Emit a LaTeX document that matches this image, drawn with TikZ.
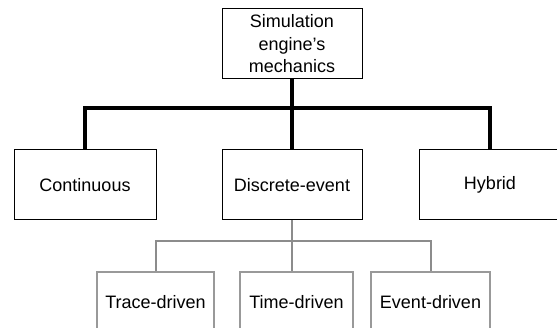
\documentclass[tikz,border=0pt]{standalone}
\usepackage{fontspec}
\setmainfont{Liberation Sans}
\begin{document}
\begin{tikzpicture}[x=1pt,y=-1pt,
  every node/.style={font=\fontsize{18}{22.5}\selectfont, inner sep=0pt},
  mainbox/.style={draw=black, line width=1pt, fill=white, minimum height=70pt},
  subbox/.style={draw=black!40, line width=1.3pt, fill=white, minimum height=60pt},
  thickline/.style={line width=3.6pt, black},
  greyline/.style={line width=2pt, black!45}]
  \useasboundingbox (0,0) rectangle (557,328);

  % junction points of the two bus lines
  \coordinate (bus) at (292,108);
  \coordinate (subbus) at (292,241);

  % top level
  \node[mainbox, minimum width=140pt, align=center] (root) at (292,44)
    {Simulation\\engine’s\\mechanics};

  % second level
  \node[mainbox, minimum width=142pt] (cont) at (85,185) {Continuous};
  \node[mainbox, minimum width=140pt] (disc) at (292,185) {Discrete-event};
  \node[mainbox, minimum width=142pt] (hyb) at (490,185) {Hybrid};

  % third level
  \node[subbox, minimum width=117pt] (trace) at (155.5,302) {Trace-driven};
  \node[subbox, minimum width=113pt] (time) at (296.5,302) {Time-driven};
  \node[subbox, minimum width=119pt] (event) at (430.5,302) {Event-driven};

  \draw[thickline] (root.south) -- (disc.north);
  \draw[thickline] (cont.north) |- (bus) -| (hyb.north);

  \draw[greyline] (disc.south) -- (disc.south |- time.north);
  \draw[greyline] (trace.north) |- (subbus) -| (event.north);
\end{tikzpicture}
\end{document}
